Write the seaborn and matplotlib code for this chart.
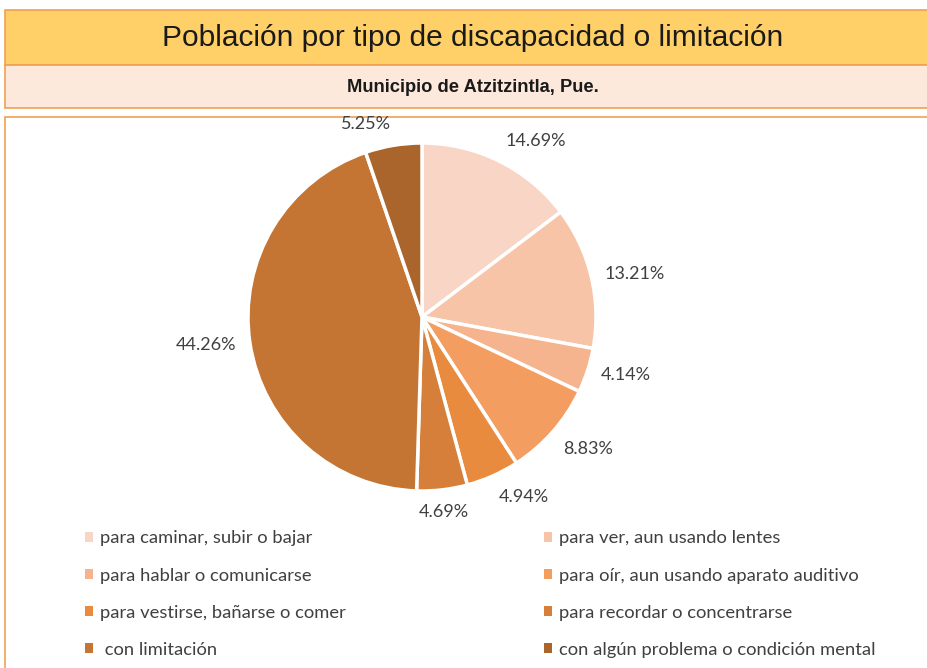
import matplotlib
matplotlib.use("Agg")
import numpy as np
import matplotlib.pyplot as plt
from matplotlib.patches import Rectangle, Patch
import seaborn as sns

# Data
categories = [
    "para caminar, subir o bajar",
    "para ver, aun usando lentes",
    "para hablar o comunicarse",
    "para oír, aun usando aparato auditivo",
    "para vestirse, bañarse o comer",
    "para recordar o concentrarse",
    " con limitación",
    "con algún problema o condición mental",
]
percentages = [14.69, 13.21, 4.14, 8.83, 4.94, 4.69, 44.26, 5.25]
colors = ["#F8D5C5", "#F7C4A8", "#F5B48D", "#F49D61",
          "#E88B3E", "#D57F3A", "#C57533", "#A9652C"]

title = "Población por tipo de discapacidad o limitación"
subtitle = "Municipio de Atzitzintla, Pue."

sns.set_theme(style="white")
plt.rcParams["font.family"] = ["Lato", "DejaVu Sans"]

W, H = 927, 668
fig = plt.figure(figsize=(W / 100, H / 100), dpi=100)
fig.patch.set_facecolor("white")

def fbox(x0, y0, x1, y1, fc, ec, lw=1.2):
    # box in pixel coords (top-left origin)
    r = Rectangle((x0 / W, 1 - y1 / H), (x1 - x0) / W, (y1 - y0) / H,
                  transform=fig.transFigure, facecolor=fc, edgecolor=ec,
                  linewidth=lw, zorder=-5)
    fig.patches.append(r)

# header bands and chart frame
fbox(5, 10, 935, 65, "#FFD067", "#F0A050")
fbox(5, 65, 935, 108, "#FCE9DB", "#F0A050")
fbox(5, 117, 935, 680, "white", "#F0A050")

fig.text(473 / W, 1 - 38 / H, title, ha="center", va="center",
         fontsize=21.5, family="Liberation Sans", color="#1a1a1a")
fig.text(473 / W, 1 - 87 / H, subtitle, ha="center", va="center",
         fontsize=13.2, family="Liberation Sans", fontweight="bold",
         color="#1a1a1a")

# pie axes centred at (422, 317) px, radius 174 px
lim = 1.35
half = 174 * lim
ax = fig.add_axes([(422 - half) / W, (H - 317 - half) / H, 2 * half / W, 2 * half / H])
wedges, texts = ax.pie(
    percentages, colors=colors, startangle=90, counterclock=False,
    labels=[f"{p:.2f}%" for p in percentages], labeldistance=1.08,
    wedgeprops=dict(edgecolor="white", linewidth=2.5),
    textprops=dict(fontsize=13, color="#404040"),
)
# excel-style "outside end" alignment
for w, t in zip(wedges, texts):
    ang = np.deg2rad((w.theta1 + w.theta2) / 2)
    c, s = np.cos(ang), np.sin(ang)
    t.set_horizontalalignment("left" if c > 0.15 else "right" if c < -0.15 else "center")
    t.set_verticalalignment("bottom" if s > 0.5 else "top" if s < -0.5 else "center")
ax.set_xlim(-lim, lim)
ax.set_ylim(-lim, lim)
ax.set_aspect("equal")
ax.axis("off")

# legend filled row by row, like the original
order = [0, 2, 4, 6, 1, 3, 5, 7]
handles = [Patch(facecolor=colors[i], edgecolor="none") for i in order]
labels = [categories[i] for i in order]
fig.legend(handles, labels, loc="upper left",
           bbox_to_anchor=(68 / W, 1 - 514 / H), ncol=2, frameon=False,
           fontsize=13.2, labelcolor="#404040", handlelength=0.45,
           handleheight=0.45, handletextpad=0.4, labelspacing=1.15,
           columnspacing=10.8)

fig.savefig("out.png", dpi=100)
